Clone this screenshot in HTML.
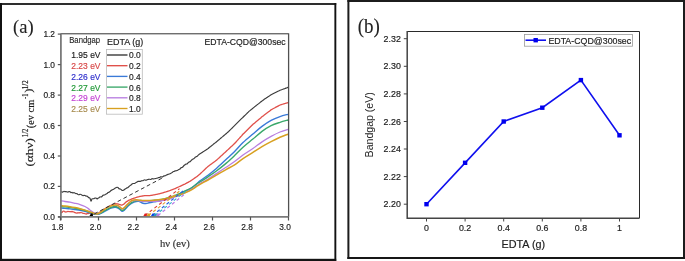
<!DOCTYPE html>
<html><head><meta charset="utf-8"><style>
html,body{margin:0;padding:0;background:#fff;overflow:hidden;}
svg{display:block;will-change:transform;}
</style></head><body>
<svg width="685" height="261" viewBox="0 0 685 261">
<rect x="0" y="0" width="685" height="261" fill="#fff"/>
<rect x="0" y="3" width="336.2" height="2" fill="#2e2e2e"/>
<rect x="0" y="3" width="2" height="258" fill="#111"/>
<rect x="334.4" y="3" width="1.9" height="258" fill="#111"/>
<rect x="0" y="258.8" width="336.2" height="2.2" fill="#141414"/>
<rect x="347.4" y="0" width="337.6" height="2" fill="#1c1c1c"/>
<rect x="347.4" y="0" width="2" height="259" fill="#1c1c1c"/>
<rect x="683" y="0" width="2" height="259" fill="#1c1c1c"/>
<rect x="347.4" y="257" width="337.6" height="2" fill="#161616"/>
<text x="13" y="32.6" font-family="Liberation Serif" font-size="19.5" fill="#222" stroke="#222" stroke-width="0.1" textLength="20.6" lengthAdjust="spacingAndGlyphs">(a)</text>
<g fill="none" stroke-linejoin="round" stroke-linecap="round">
<path d="M61.00,191.57 C61.17,191.66 61.67,192.03 62.00,192.08 C62.33,192.13 62.67,192.00 63.00,191.87 C63.33,191.74 63.67,191.33 64.00,191.28 C64.33,191.23 64.67,191.52 65.00,191.57 C65.33,191.63 65.67,191.56 66.00,191.60 C66.33,191.65 66.67,191.79 67.00,191.86 C67.33,191.94 67.67,192.10 68.00,192.06 C68.33,192.02 68.67,191.67 69.00,191.61 C69.33,191.55 69.67,191.56 70.00,191.73 C70.33,191.90 70.67,192.51 71.00,192.63 C71.33,192.75 71.67,192.38 72.00,192.44 C72.33,192.50 72.67,192.97 73.00,192.99 C73.33,193.00 73.67,192.52 74.00,192.55 C74.33,192.59 74.67,193.01 75.00,193.20 C75.33,193.39 75.67,193.64 76.00,193.70 C76.33,193.76 76.67,193.42 77.00,193.56 C77.33,193.69 77.67,194.30 78.00,194.50 C78.33,194.70 78.67,194.80 79.00,194.76 C79.33,194.72 79.67,194.33 80.00,194.28 C80.33,194.23 80.67,194.33 81.00,194.47 C81.33,194.62 81.67,194.93 82.00,195.14 C82.33,195.34 82.67,195.65 83.00,195.70 C83.33,195.74 83.67,195.41 84.00,195.39 C84.33,195.37 84.67,195.46 85.00,195.58 C85.33,195.70 85.67,196.01 86.00,196.10 C86.33,196.18 86.67,195.93 87.00,196.08 C87.33,196.22 87.67,196.65 88.00,196.95 C88.33,197.24 88.67,197.64 89.00,197.84 C89.33,198.05 89.67,197.64 90.00,198.20 C90.33,198.75 90.67,201.03 91.00,201.16 C91.33,201.29 91.67,199.36 92.00,198.96 C92.33,198.56 92.67,198.80 93.00,198.75 C93.33,198.69 93.67,198.72 94.00,198.61 C94.33,198.51 94.67,198.21 95.00,198.11 C95.33,198.01 95.67,197.89 96.00,198.02 C96.33,198.15 96.67,198.88 97.00,198.90 C97.33,198.93 97.67,198.35 98.00,198.15 C98.33,197.95 98.67,197.95 99.00,197.73 C99.33,197.51 99.67,196.93 100.00,196.82 C100.33,196.70 100.67,197.10 101.00,197.04 C101.33,196.98 101.67,196.74 102.00,196.46 C102.33,196.17 102.67,195.56 103.00,195.33 C103.33,195.09 103.67,195.15 104.00,195.05 C104.33,194.95 104.67,194.90 105.00,194.73 C105.33,194.57 105.67,194.25 106.00,194.06 C106.33,193.87 106.67,193.85 107.00,193.59 C107.33,193.34 107.67,192.75 108.00,192.53 C108.33,192.31 108.67,192.46 109.00,192.30 C109.33,192.13 109.67,191.85 110.00,191.55 C110.33,191.25 110.67,190.75 111.00,190.49 C111.33,190.23 111.67,190.17 112.00,190.01 C112.33,189.85 112.67,189.72 113.00,189.54 C113.33,189.37 113.67,189.21 114.00,188.98 C114.33,188.74 114.67,188.35 115.00,188.14 C115.33,187.92 115.67,187.82 116.00,187.68 C116.33,187.54 116.67,187.30 117.00,187.28 C117.33,187.26 117.67,187.34 118.00,187.57 C118.33,187.80 118.67,188.44 119.00,188.67 C119.33,188.89 119.67,188.81 120.00,188.92 C120.33,189.04 120.67,189.11 121.00,189.35 C121.33,189.58 121.67,190.13 122.00,190.32 C122.33,190.52 122.67,190.57 123.00,190.50 C123.33,190.43 123.67,190.15 124.00,189.92 C124.33,189.68 124.67,189.33 125.00,189.09 C125.33,188.85 125.67,188.68 126.00,188.48 C126.33,188.28 126.67,188.05 127.00,187.87 C127.33,187.70 127.67,187.68 128.00,187.45 C128.33,187.22 128.67,186.79 129.00,186.49 C129.33,186.18 129.67,185.89 130.00,185.64 C130.33,185.39 130.67,185.26 131.00,184.99 C131.33,184.72 131.67,184.28 132.00,184.03 C132.33,183.78 132.67,183.57 133.00,183.49 C133.33,183.41 133.67,183.58 134.00,183.53 C134.33,183.49 134.67,183.40 135.00,183.23 C135.33,183.07 135.67,182.73 136.00,182.52 C136.33,182.32 136.67,182.17 137.00,181.98 C137.33,181.80 137.67,181.53 138.00,181.42 C138.33,181.32 138.67,181.36 139.00,181.36 C139.33,181.36 139.67,181.49 140.00,181.43 C140.33,181.38 140.67,181.18 141.00,181.04 C141.33,180.91 141.67,180.69 142.00,180.64 C142.33,180.58 142.67,180.84 143.00,180.72 C143.33,180.61 143.67,180.08 144.00,179.96 C144.33,179.84 144.67,179.96 145.00,180.01 C145.33,180.06 145.67,180.30 146.00,180.27 C146.33,180.23 146.67,179.91 147.00,179.79 C147.33,179.67 147.67,179.64 148.00,179.54 C148.33,179.45 148.67,179.27 149.00,179.23 C149.33,179.20 149.67,179.30 150.00,179.34 C150.33,179.39 150.67,179.66 151.00,179.51 C151.33,179.36 151.67,178.55 152.00,178.46 C152.33,178.36 152.67,178.90 153.00,178.96 C153.33,179.01 153.67,178.84 154.00,178.79 C154.33,178.74 154.67,178.72 155.00,178.65 C155.33,178.57 155.67,178.41 156.00,178.34 C156.33,178.26 156.67,178.31 157.00,178.22 C157.33,178.12 157.67,177.87 158.00,177.78 C158.33,177.68 158.67,177.71 159.00,177.64 C159.33,177.56 159.67,177.49 160.00,177.33 C160.33,177.17 160.67,176.72 161.00,176.68 C161.33,176.64 161.67,177.12 162.00,177.09 C162.33,177.06 162.67,176.71 163.00,176.50 C163.33,176.30 163.67,175.97 164.00,175.85 C164.33,175.73 164.67,175.89 165.00,175.80 C165.33,175.72 165.67,175.52 166.00,175.35 C166.33,175.18 166.67,174.96 167.00,174.79 C167.33,174.62 167.67,174.46 168.00,174.34 C168.33,174.22 168.67,174.18 169.00,174.07 C169.33,173.97 169.67,173.85 170.00,173.71 C170.33,173.57 170.67,173.41 171.00,173.22 C171.33,173.04 171.67,172.85 172.00,172.60 C172.33,172.35 172.67,171.93 173.00,171.74 C173.33,171.54 173.67,171.57 174.00,171.44 C174.33,171.30 174.67,171.02 175.00,170.91 C175.33,170.80 175.67,170.84 176.00,170.78 C176.33,170.71 176.67,170.66 177.00,170.52 C177.33,170.39 177.67,170.14 178.00,169.97 C178.33,169.79 178.67,169.63 179.00,169.47 C179.33,169.30 179.67,169.27 180.00,168.98 C180.33,168.70 180.67,168.01 181.00,167.78 C181.33,167.55 181.67,167.78 182.00,167.61 C182.33,167.44 182.67,167.10 183.00,166.76 C183.33,166.41 183.67,165.86 184.00,165.52 C184.33,165.19 184.67,165.01 185.00,164.77 C185.33,164.52 185.67,164.17 186.00,164.04 C186.33,163.91 186.67,164.19 187.00,163.99 C187.33,163.79 187.67,163.15 188.00,162.81 C188.33,162.48 188.67,162.15 189.00,161.97 C189.33,161.78 189.67,161.92 190.00,161.71 C190.33,161.50 190.67,161.04 191.00,160.70 C191.33,160.36 191.67,159.97 192.00,159.69 C192.33,159.41 192.67,159.20 193.00,159.01 C193.33,158.83 193.67,158.84 194.00,158.58 C194.33,158.33 194.67,157.80 195.00,157.50 C195.33,157.20 195.67,156.98 196.00,156.80 C196.33,156.61 196.67,156.63 197.00,156.39 C197.33,156.15 197.67,155.68 198.00,155.36 C198.33,155.03 198.67,154.70 199.00,154.44 C199.33,154.18 199.67,154.01 200.00,153.80 C200.33,153.59 200.67,153.37 201.00,153.15 C201.33,152.93 201.67,152.72 202.00,152.50 C202.33,152.28 202.67,152.07 203.00,151.85 C203.33,151.63 203.67,151.42 204.00,151.20 C204.33,150.98 204.67,150.77 205.00,150.55 C205.33,150.33 205.67,150.12 206.00,149.90 C206.33,149.68 206.67,149.47 207.00,149.25 C207.33,149.03 207.67,148.84 208.00,148.60 C208.33,148.36 208.67,148.07 209.00,147.80 C209.33,147.54 209.67,147.27 210.00,147.00 C210.33,146.74 210.67,146.47 211.00,146.21 C211.33,145.94 211.67,145.68 212.00,145.41 C212.33,145.14 212.67,144.88 213.00,144.61 C213.33,144.35 213.67,144.08 214.00,143.81 C214.33,143.55 214.67,143.28 215.00,143.02 C215.33,142.75 215.67,142.49 216.00,142.22 C216.33,141.95 216.67,141.67 217.00,141.39 C217.33,141.11 217.67,140.83 218.00,140.55 C218.33,140.27 218.67,139.98 219.00,139.70 C219.33,139.42 219.67,139.14 220.00,138.86 C220.33,138.57 220.67,138.29 221.00,138.01 C221.33,137.73 221.67,137.45 222.00,137.17 C222.33,136.88 222.67,136.60 223.00,136.32 C223.33,136.04 223.67,135.76 224.00,135.47 C224.33,135.19 224.67,134.91 225.00,134.63 C225.33,134.35 225.67,134.07 226.00,133.78 C226.33,133.50 226.67,133.23 227.00,132.94 C227.33,132.64 227.67,132.33 228.00,132.02 C228.33,131.70 228.67,131.37 229.00,131.04 C229.33,130.72 229.67,130.40 230.00,130.07 C230.33,129.75 230.67,129.42 231.00,129.10 C231.33,128.78 231.67,128.45 232.00,128.13 C232.33,127.80 232.67,127.48 233.00,127.16 C233.33,126.83 233.67,126.51 234.00,126.18 C234.33,125.86 234.67,125.53 235.00,125.20 C235.33,124.87 235.67,124.53 236.00,124.20 C236.33,123.87 236.67,123.53 237.00,123.20 C237.33,122.87 237.67,122.53 238.00,122.20 C238.33,121.87 238.67,121.53 239.00,121.20 C239.33,120.87 239.67,120.53 240.00,120.20 C240.33,119.87 240.67,119.53 241.00,119.20 C241.33,118.87 241.67,118.53 242.00,118.20 C242.33,117.87 242.67,117.55 243.00,117.23 C243.33,116.91 243.67,116.58 244.00,116.26 C244.33,115.94 244.67,115.61 245.00,115.29 C245.33,114.96 245.67,114.64 246.00,114.32 C246.33,113.99 246.67,113.67 247.00,113.34 C247.33,113.02 247.67,112.70 248.00,112.37 C248.33,112.05 248.67,111.70 249.00,111.40 C249.33,111.10 249.67,110.86 250.00,110.59 C250.33,110.32 250.67,110.04 251.00,109.77 C251.33,109.50 251.67,109.23 252.00,108.96 C252.33,108.69 252.67,108.42 253.00,108.15 C253.33,107.88 253.67,107.60 254.00,107.33 C254.33,107.06 254.67,106.79 255.00,106.52 C255.33,106.25 255.67,105.97 256.00,105.71 C256.33,105.44 256.67,105.17 257.00,104.91 C257.33,104.65 257.67,104.40 258.00,104.14 C258.33,103.88 258.67,103.62 259.00,103.37 C259.33,103.11 259.67,102.85 260.00,102.59 C260.33,102.34 260.67,102.08 261.00,101.82 C261.33,101.56 261.67,101.30 262.00,101.05 C262.33,100.79 262.67,100.53 263.00,100.27 C263.33,100.02 263.67,99.74 264.00,99.50 C264.33,99.26 264.67,99.06 265.00,98.84 C265.33,98.62 265.67,98.40 266.00,98.18 C266.33,97.96 266.67,97.73 267.00,97.51 C267.33,97.29 267.67,97.07 268.00,96.85 C268.33,96.63 268.67,96.41 269.00,96.19 C269.33,95.97 269.67,95.75 270.00,95.53 C270.33,95.31 270.67,95.06 271.00,94.87 C271.33,94.67 271.67,94.52 272.00,94.34 C272.33,94.17 272.67,94.01 273.00,93.84 C273.33,93.67 273.67,93.50 274.00,93.33 C274.33,93.17 274.67,93.00 275.00,92.83 C275.33,92.66 275.67,92.49 276.00,92.32 C276.33,92.15 276.67,91.99 277.00,91.82 C277.33,91.65 277.67,91.48 278.00,91.31 C278.33,91.14 278.67,90.97 279.00,90.81 C279.33,90.64 279.67,90.44 280.00,90.30 C280.33,90.16 280.67,90.06 281.00,89.94 C281.33,89.82 281.67,89.70 282.00,89.58 C282.33,89.45 282.67,89.33 283.00,89.21 C283.33,89.09 283.67,88.97 284.00,88.85 C284.33,88.73 284.67,88.61 285.00,88.49 C285.33,88.37 285.67,88.25 286.00,88.12 C286.33,88.00 286.67,87.88 287.00,87.76 C287.33,87.64 287.83,87.46 288.00,87.40" stroke="#3c3c3c" stroke-width="1.15"/>
<path d="M61.00,212.50 C61.17,212.48 61.67,212.59 62.00,212.39 C62.33,212.19 62.67,211.50 63.00,211.31 C63.33,211.12 63.67,211.13 64.00,211.24 C64.33,211.35 64.67,211.87 65.00,211.97 C65.33,212.07 65.67,211.88 66.00,211.84 C66.33,211.80 66.67,211.83 67.00,211.75 C67.33,211.66 67.67,211.35 68.00,211.33 C68.33,211.31 68.67,211.59 69.00,211.64 C69.33,211.68 69.67,211.60 70.00,211.62 C70.33,211.64 70.67,211.78 71.00,211.75 C71.33,211.72 71.67,211.42 72.00,211.44 C72.33,211.47 72.67,211.81 73.00,211.90 C73.33,212.00 73.67,211.92 74.00,212.02 C74.33,212.13 74.67,212.39 75.00,212.55 C75.33,212.71 75.67,212.90 76.00,212.98 C76.33,213.07 76.67,213.11 77.00,213.07 C77.33,213.04 77.67,212.81 78.00,212.77 C78.33,212.72 78.67,212.80 79.00,212.80 C79.33,212.80 79.67,212.77 80.00,212.75 C80.33,212.72 80.67,212.63 81.00,212.63 C81.33,212.63 81.67,212.63 82.00,212.76 C82.33,212.89 82.67,213.28 83.00,213.38 C83.33,213.48 83.67,213.33 84.00,213.36 C84.33,213.39 84.67,213.44 85.00,213.57 C85.33,213.69 85.67,214.09 86.00,214.11 C86.33,214.13 86.67,213.76 87.00,213.69 C87.33,213.62 87.67,213.77 88.00,213.71 C88.33,213.65 88.67,213.43 89.00,213.33 C89.33,213.22 89.67,213.05 90.00,213.08 C90.33,213.10 90.67,213.44 91.00,213.48 C91.33,213.53 91.67,213.29 92.00,213.35 C92.33,213.41 92.67,213.65 93.00,213.84 C93.33,214.02 93.67,214.43 94.00,214.45 C94.33,214.46 94.67,214.13 95.00,213.93 C95.33,213.72 95.67,213.23 96.00,213.22 C96.33,213.20 96.67,213.83 97.00,213.83 C97.33,213.84 97.67,213.44 98.00,213.26 C98.33,213.08 98.67,212.93 99.00,212.72 C99.33,212.51 99.67,212.24 100.00,212.00 C100.33,211.76 100.67,211.53 101.00,211.30 C101.33,211.07 101.67,210.83 102.00,210.60 C102.33,210.37 102.67,210.12 103.00,209.90 C103.33,209.68 103.67,209.48 104.00,209.27 C104.33,209.06 104.67,208.84 105.00,208.63 C105.33,208.42 105.67,208.20 106.00,208.00 C106.33,207.80 106.67,207.62 107.00,207.43 C107.33,207.24 107.67,207.06 108.00,206.87 C108.33,206.68 108.67,206.48 109.00,206.30 C109.33,206.12 109.67,205.97 110.00,205.80 C110.33,205.63 110.67,205.47 111.00,205.30 C111.33,205.13 111.67,204.94 112.00,204.80 C112.33,204.66 112.67,204.57 113.00,204.46 C113.33,204.34 113.67,204.23 114.00,204.11 C114.33,204.00 114.67,203.84 115.00,203.77 C115.33,203.70 115.67,203.67 116.00,203.68 C116.33,203.69 116.67,203.79 117.00,203.84 C117.33,203.89 117.67,203.91 118.00,204.00 C118.33,204.09 118.67,204.23 119.00,204.35 C119.33,204.47 119.67,204.60 120.00,204.70 C120.33,204.80 120.67,204.87 121.00,204.95 C121.33,205.03 121.67,205.27 122.00,205.20 C122.33,205.13 122.67,204.77 123.00,204.55 C123.33,204.33 123.67,204.17 124.00,203.90 C124.33,203.63 124.67,203.27 125.00,202.95 C125.33,202.63 125.67,202.26 126.00,202.00 C126.33,201.74 126.67,201.60 127.00,201.40 C127.33,201.20 127.67,201.00 128.00,200.80 C128.33,200.60 128.67,200.37 129.00,200.20 C129.33,200.03 129.67,199.91 130.00,199.77 C130.33,199.62 130.67,199.48 131.00,199.33 C131.33,199.19 131.67,199.03 132.00,198.90 C132.33,198.77 132.67,198.67 133.00,198.55 C133.33,198.43 133.67,198.32 134.00,198.20 C134.33,198.08 134.67,197.97 135.00,197.85 C135.33,197.73 135.67,197.60 136.00,197.50 C136.33,197.40 136.67,197.32 137.00,197.22 C137.33,197.13 137.67,197.04 138.00,196.95 C138.33,196.86 138.67,196.77 139.00,196.68 C139.33,196.58 139.67,196.47 140.00,196.40 C140.33,196.33 140.67,196.29 141.00,196.24 C141.33,196.19 141.67,196.13 142.00,196.08 C142.33,196.03 142.67,195.97 143.00,195.92 C143.33,195.87 143.67,195.81 144.00,195.76 C144.33,195.71 144.67,195.63 145.00,195.60 C145.33,195.57 145.67,195.60 146.00,195.60 C146.33,195.60 146.67,195.60 147.00,195.60 C147.33,195.60 147.67,195.60 148.00,195.60 C148.33,195.60 148.67,195.60 149.00,195.60 C149.33,195.60 149.67,195.63 150.00,195.60 C150.33,195.57 150.67,195.48 151.00,195.42 C151.33,195.36 151.67,195.30 152.00,195.24 C152.33,195.18 152.67,195.12 153.00,195.06 C153.33,195.00 153.67,194.94 154.00,194.88 C154.33,194.82 154.67,194.77 155.00,194.70 C155.33,194.63 155.67,194.55 156.00,194.48 C156.33,194.41 156.67,194.33 157.00,194.26 C157.33,194.19 157.67,194.11 158.00,194.04 C158.33,193.97 158.67,193.89 159.00,193.82 C159.33,193.75 159.67,193.68 160.00,193.60 C160.33,193.52 160.67,193.41 161.00,193.32 C161.33,193.23 161.67,193.13 162.00,193.04 C162.33,192.95 162.67,192.85 163.00,192.76 C163.33,192.67 163.67,192.57 164.00,192.48 C164.33,192.39 164.67,192.30 165.00,192.20 C165.33,192.10 165.67,191.97 166.00,191.86 C166.33,191.75 166.67,191.63 167.00,191.52 C167.33,191.41 167.67,191.29 168.00,191.18 C168.33,191.07 168.67,190.95 169.00,190.84 C169.33,190.73 169.67,190.62 170.00,190.50 C170.33,190.38 170.67,190.25 171.00,190.12 C171.33,189.99 171.67,189.87 172.00,189.74 C172.33,189.61 172.67,189.49 173.00,189.36 C173.33,189.23 173.67,189.11 174.00,188.98 C174.33,188.85 174.67,188.74 175.00,188.60 C175.33,188.46 175.67,188.29 176.00,188.14 C176.33,187.99 176.67,187.83 177.00,187.68 C177.33,187.53 177.67,187.37 178.00,187.22 C178.33,187.07 178.67,186.91 179.00,186.76 C179.33,186.61 179.67,186.45 180.00,186.30 C180.33,186.15 180.67,185.99 181.00,185.84 C181.33,185.69 181.67,185.53 182.00,185.38 C182.33,185.23 182.67,185.07 183.00,184.92 C183.33,184.77 183.67,184.61 184.00,184.46 C184.33,184.31 184.67,184.17 185.00,184.00 C185.33,183.83 185.67,183.63 186.00,183.45 C186.33,183.26 186.67,183.08 187.00,182.89 C187.33,182.71 187.67,182.52 188.00,182.34 C188.33,182.15 188.67,181.97 189.00,181.78 C189.33,181.60 189.67,181.42 190.00,181.23 C190.33,181.05 190.67,180.88 191.00,180.68 C191.33,180.48 191.67,180.26 192.00,180.04 C192.33,179.81 192.67,179.55 193.00,179.31 C193.33,179.07 193.67,178.82 194.00,178.58 C194.33,178.34 194.67,178.10 195.00,177.85 C195.33,177.61 195.67,177.37 196.00,177.13 C196.33,176.88 196.67,176.65 197.00,176.40 C197.33,176.15 197.67,175.87 198.00,175.60 C198.33,175.33 198.67,175.07 199.00,174.80 C199.33,174.53 199.67,174.29 200.00,174.00 C200.33,173.71 200.67,173.37 201.00,173.05 C201.33,172.73 201.67,172.42 202.00,172.10 C202.33,171.78 202.67,171.47 203.00,171.15 C203.33,170.83 203.67,170.52 204.00,170.20 C204.33,169.88 204.67,169.57 205.00,169.25 C205.33,168.93 205.67,168.62 206.00,168.30 C206.33,167.98 206.67,167.67 207.00,167.35 C207.33,167.03 207.67,166.68 208.00,166.40 C208.33,166.12 208.67,165.92 209.00,165.67 C209.33,165.43 209.67,165.19 210.00,164.95 C210.33,164.71 210.67,164.46 211.00,164.22 C211.33,163.98 211.67,163.74 212.00,163.50 C212.33,163.25 212.67,163.01 213.00,162.77 C213.33,162.53 213.67,162.28 214.00,162.04 C214.33,161.80 214.67,161.56 215.00,161.32 C215.33,161.07 215.67,160.85 216.00,160.59 C216.33,160.33 216.67,160.04 217.00,159.75 C217.33,159.46 217.67,159.14 218.00,158.83 C218.33,158.53 218.67,158.22 219.00,157.92 C219.33,157.61 219.67,157.31 220.00,157.00 C220.33,156.69 220.67,156.39 221.00,156.08 C221.33,155.78 221.67,155.47 222.00,155.17 C222.33,154.86 222.67,154.56 223.00,154.25 C223.33,153.94 223.67,153.64 224.00,153.33 C224.33,153.03 224.67,152.72 225.00,152.42 C225.33,152.11 225.67,151.81 226.00,151.50 C226.33,151.19 226.67,150.88 227.00,150.57 C227.33,150.26 227.67,149.95 228.00,149.64 C228.33,149.33 228.67,149.02 229.00,148.71 C229.33,148.40 229.67,148.09 230.00,147.78 C230.33,147.47 230.67,147.16 231.00,146.85 C231.33,146.54 231.67,146.23 232.00,145.92 C232.33,145.61 232.67,145.30 233.00,144.99 C233.33,144.68 233.67,144.38 234.00,144.06 C234.33,143.74 234.67,143.41 235.00,143.06 C235.33,142.71 235.67,142.32 236.00,141.95 C236.33,141.58 236.67,141.21 237.00,140.84 C237.33,140.47 237.67,140.10 238.00,139.74 C238.33,139.37 238.67,139.00 239.00,138.63 C239.33,138.26 239.67,137.89 240.00,137.52 C240.33,137.15 240.67,136.78 241.00,136.41 C241.33,136.05 241.67,135.68 242.00,135.31 C242.33,134.94 242.67,134.55 243.00,134.20 C243.33,133.85 243.67,133.54 244.00,133.21 C244.33,132.88 244.67,132.55 245.00,132.22 C245.33,131.89 245.67,131.56 246.00,131.23 C246.33,130.90 246.67,130.57 247.00,130.24 C247.33,129.91 247.67,129.58 248.00,129.25 C248.33,128.92 248.67,128.59 249.00,128.26 C249.33,127.93 249.67,127.60 250.00,127.27 C250.33,126.94 250.67,126.61 251.00,126.28 C251.33,125.95 251.67,125.62 252.00,125.29 C252.33,124.96 252.67,124.62 253.00,124.32 C253.33,124.01 253.67,123.76 254.00,123.48 C254.33,123.20 254.67,122.92 255.00,122.65 C255.33,122.37 255.67,122.09 256.00,121.81 C256.33,121.53 256.67,121.25 257.00,120.98 C257.33,120.70 257.67,120.42 258.00,120.14 C258.33,119.86 258.67,119.58 259.00,119.31 C259.33,119.03 259.67,118.75 260.00,118.47 C260.33,118.19 260.67,117.91 261.00,117.64 C261.33,117.36 261.67,117.07 262.00,116.80 C262.33,116.53 262.67,116.29 263.00,116.03 C263.33,115.77 263.67,115.52 264.00,115.26 C264.33,115.01 264.67,114.75 265.00,114.49 C265.33,114.24 265.67,113.98 266.00,113.72 C266.33,113.47 266.67,113.21 267.00,112.95 C267.33,112.70 267.67,112.44 268.00,112.18 C268.33,111.93 268.67,111.67 269.00,111.42 C269.33,111.16 269.67,110.90 270.00,110.65 C270.33,110.39 270.67,110.10 271.00,109.88 C271.33,109.65 271.67,109.50 272.00,109.31 C272.33,109.13 272.67,108.96 273.00,108.78 C273.33,108.60 273.67,108.42 274.00,108.24 C274.33,108.06 274.67,107.88 275.00,107.70 C275.33,107.52 275.67,107.34 276.00,107.16 C276.33,106.98 276.67,106.80 277.00,106.62 C277.33,106.44 277.67,106.26 278.00,106.08 C278.33,105.90 278.67,105.72 279.00,105.54 C279.33,105.36 279.67,105.14 280.00,105.00 C280.33,104.86 280.67,104.80 281.00,104.70 C281.33,104.60 281.67,104.50 282.00,104.40 C282.33,104.30 282.67,104.20 283.00,104.10 C283.33,104.00 283.67,103.90 284.00,103.80 C284.33,103.70 284.67,103.60 285.00,103.50 C285.33,103.40 285.67,103.30 286.00,103.20 C286.33,103.10 286.67,103.00 287.00,102.90 C287.33,102.80 287.83,102.65 288.00,102.60" stroke="#e0504a" stroke-width="1.3"/>
<path d="M61.00,208.00 C61.67,208.07 63.50,208.25 65.00,208.40 C66.50,208.55 68.33,208.70 70.00,208.90 C71.67,209.10 73.33,209.37 75.00,209.60 C76.67,209.83 78.33,210.00 80.00,210.30 C81.67,210.60 83.33,210.98 85.00,211.40 C86.67,211.82 88.50,212.37 90.00,212.80 C91.50,213.23 92.83,213.75 94.00,214.00 C95.17,214.25 96.00,214.33 97.00,214.30 C98.00,214.27 99.00,214.14 100.00,213.80 C101.00,213.47 102.00,212.83 103.00,212.29 C104.00,211.76 105.00,211.15 106.00,210.60 C107.00,210.05 108.00,209.48 109.00,209.00 C110.00,208.52 110.92,207.98 112.00,207.70 C113.08,207.42 114.50,207.23 115.50,207.30 C116.50,207.37 117.25,207.73 118.00,208.10 C118.75,208.47 119.33,208.97 120.00,209.50 C120.67,210.03 121.33,211.13 122.00,211.30 C122.67,211.47 123.33,211.00 124.00,210.50 C124.67,210.00 125.17,209.17 126.00,208.30 C126.83,207.43 128.00,206.17 129.00,205.30 C130.00,204.43 130.83,203.73 132.00,203.10 C133.17,202.47 134.83,201.81 136.00,201.52 C137.17,201.23 138.17,201.20 139.00,201.36 C139.83,201.52 140.33,202.16 141.00,202.49 C141.67,202.81 142.17,203.14 143.00,203.31 C143.83,203.47 145.00,203.58 146.00,203.50 C147.00,203.42 148.00,203.02 149.00,202.80 C150.00,202.58 150.83,202.40 152.00,202.20 C153.17,202.00 154.67,201.83 156.00,201.60 C157.33,201.37 158.50,201.13 160.00,200.80 C161.50,200.47 163.33,200.07 165.00,199.60 C166.67,199.13 168.33,198.60 170.00,198.00 C171.67,197.40 173.33,196.63 175.00,196.00 C176.67,195.37 178.33,194.93 180.00,194.20 C181.67,193.47 183.08,192.62 185.00,191.60 C186.92,190.58 189.50,189.40 191.50,188.06 C193.50,186.72 195.58,184.76 197.00,183.55 C198.42,182.34 198.17,182.19 200.00,180.80 C201.83,179.41 205.27,177.25 208.00,175.20 C210.73,173.15 213.40,171.10 216.40,168.50 C219.40,165.90 222.97,162.43 226.00,159.60 C229.03,156.77 231.77,154.33 234.60,151.50 C237.43,148.67 239.95,145.52 243.00,142.60 C246.05,139.68 249.73,136.70 252.90,134.00 C256.07,131.30 258.97,128.67 262.00,126.40 C265.03,124.13 268.10,122.03 271.10,120.40 C274.10,118.77 277.18,117.62 280.00,116.60 C282.82,115.58 286.67,114.68 288.00,114.30" stroke="#3a7ad8" stroke-width="1.4"/>
<path d="M61.00,206.60 C61.67,206.65 63.50,206.75 65.00,206.90 C66.50,207.05 68.33,207.27 70.00,207.50 C71.67,207.73 73.33,208.02 75.00,208.30 C76.67,208.58 78.33,208.83 80.00,209.20 C81.67,209.57 83.33,210.00 85.00,210.50 C86.67,211.00 88.50,211.68 90.00,212.20 C91.50,212.72 92.83,213.30 94.00,213.60 C95.17,213.90 96.00,214.02 97.00,214.00 C98.00,213.98 99.00,213.85 100.00,213.47 C101.00,213.10 102.00,212.32 103.00,211.74 C104.00,211.16 105.00,210.57 106.00,210.00 C107.00,209.43 108.00,208.80 109.00,208.30 C110.00,207.80 110.92,207.30 112.00,207.00 C113.08,206.70 114.50,206.45 115.50,206.50 C116.50,206.55 117.25,206.93 118.00,207.30 C118.75,207.67 119.33,208.18 120.00,208.70 C120.67,209.22 121.33,210.25 122.00,210.40 C122.67,210.55 123.33,210.10 124.00,209.60 C124.67,209.10 125.17,208.25 126.00,207.40 C126.83,206.55 128.00,205.35 129.00,204.50 C130.00,203.65 130.83,202.91 132.00,202.30 C133.17,201.69 134.67,201.15 136.00,200.85 C137.33,200.54 138.50,200.50 140.00,200.47 C141.50,200.45 143.33,200.69 145.00,200.72 C146.67,200.74 148.33,200.69 150.00,200.60 C151.67,200.51 153.33,200.37 155.00,200.20 C156.67,200.03 158.33,199.87 160.00,199.60 C161.67,199.33 163.33,199.00 165.00,198.60 C166.67,198.20 168.33,197.73 170.00,197.20 C171.67,196.67 173.33,196.03 175.00,195.40 C176.67,194.77 178.33,194.13 180.00,193.40 C181.67,192.67 183.08,191.94 185.00,191.00 C186.92,190.06 189.50,188.97 191.50,187.76 C193.50,186.55 195.58,184.71 197.00,183.75 C198.42,182.79 198.17,183.16 200.00,182.00 C201.83,180.84 205.27,178.63 208.00,176.80 C210.73,174.97 213.40,173.23 216.40,171.00 C219.40,168.77 222.97,165.98 226.00,163.40 C229.03,160.82 231.77,158.20 234.60,155.50 C237.43,152.80 239.95,149.95 243.00,147.20 C246.05,144.45 249.73,141.63 252.90,139.00 C256.07,136.37 258.97,133.62 262.00,131.40 C265.03,129.18 268.10,127.22 271.10,125.70 C274.10,124.18 277.18,123.25 280.00,122.30 C282.82,121.35 286.67,120.38 288.00,120.00" stroke="#3aa86a" stroke-width="1.4"/>
<path d="M61.00,200.80 C61.67,200.92 63.50,201.27 65.00,201.50 C66.50,201.73 68.33,201.90 70.00,202.20 C71.67,202.50 73.33,202.90 75.00,203.30 C76.67,203.70 78.33,204.07 80.00,204.60 C81.67,205.13 83.67,205.87 85.00,206.50 C86.33,207.13 87.00,207.68 88.00,208.40 C89.00,209.12 90.00,210.05 91.00,210.80 C92.00,211.55 93.00,212.40 94.00,212.90 C95.00,213.40 96.00,213.84 97.00,213.80 C98.00,213.76 99.00,213.22 100.00,212.63 C101.00,212.05 102.00,211.02 103.00,210.30 C104.00,209.57 105.00,208.90 106.00,208.30 C107.00,207.70 108.00,207.17 109.00,206.70 C110.00,206.23 110.92,205.77 112.00,205.50 C113.08,205.23 114.50,205.03 115.50,205.10 C116.50,205.17 117.25,205.53 118.00,205.90 C118.75,206.27 119.33,206.80 120.00,207.30 C120.67,207.80 121.33,208.77 122.00,208.90 C122.67,209.03 123.33,208.58 124.00,208.10 C124.67,207.62 125.17,206.83 126.00,206.00 C126.83,205.17 128.00,203.93 129.00,203.10 C130.00,202.27 130.83,201.46 132.00,201.00 C133.17,200.54 134.67,200.33 136.00,200.35 C137.33,200.36 138.50,200.90 140.00,201.08 C141.50,201.26 143.33,201.38 145.00,201.43 C146.67,201.48 148.33,201.42 150.00,201.40 C151.67,201.38 153.33,201.37 155.00,201.30 C156.67,201.23 158.33,201.20 160.00,201.00 C161.67,200.80 163.33,200.47 165.00,200.10 C166.67,199.73 168.33,199.32 170.00,198.80 C171.67,198.28 173.33,197.65 175.00,197.00 C176.67,196.35 178.33,195.63 180.00,194.90 C181.67,194.17 183.08,193.53 185.00,192.60 C186.92,191.67 189.50,190.47 191.50,189.30 C193.50,188.13 195.58,186.56 197.00,185.59 C198.42,184.62 198.17,184.60 200.00,183.50 C201.83,182.40 205.27,180.65 208.00,179.00 C210.73,177.35 213.40,175.55 216.40,173.60 C219.40,171.65 222.97,169.32 226.00,167.30 C229.03,165.28 231.77,163.55 234.60,161.50 C237.43,159.45 239.95,157.17 243.00,155.00 C246.05,152.83 249.73,150.68 252.90,148.50 C256.07,146.32 258.97,143.92 262.00,141.90 C265.03,139.88 268.10,138.05 271.10,136.40 C274.10,134.75 277.18,133.18 280.00,132.00 C282.82,130.82 286.67,129.75 288.00,129.30" stroke="#b87ee0" stroke-width="1.3"/>
<path d="M61.00,205.60 C61.67,205.67 63.50,205.82 65.00,206.00 C66.50,206.18 68.33,206.43 70.00,206.70 C71.67,206.97 73.33,207.27 75.00,207.60 C76.67,207.93 78.33,208.28 80.00,208.70 C81.67,209.12 83.33,209.57 85.00,210.10 C86.67,210.63 88.50,211.35 90.00,211.90 C91.50,212.45 92.83,213.07 94.00,213.40 C95.17,213.73 96.00,214.03 97.00,213.90 C98.00,213.77 99.00,213.24 100.00,212.65 C101.00,212.05 102.00,211.05 103.00,210.33 C104.00,209.60 105.00,208.92 106.00,208.30 C107.00,207.68 108.00,207.08 109.00,206.60 C110.00,206.12 110.92,205.68 112.00,205.40 C113.08,205.12 114.50,204.85 115.50,204.90 C116.50,204.95 117.25,205.33 118.00,205.70 C118.75,206.07 119.33,206.60 120.00,207.10 C120.67,207.60 121.33,208.57 122.00,208.70 C122.67,208.83 123.33,208.38 124.00,207.90 C124.67,207.42 125.17,206.65 126.00,205.80 C126.83,204.95 128.00,203.68 129.00,202.80 C130.00,201.92 130.83,201.02 132.00,200.50 C133.17,199.98 134.67,199.69 136.00,199.66 C137.33,199.63 138.50,200.16 140.00,200.32 C141.50,200.48 143.33,200.58 145.00,200.61 C146.67,200.64 148.33,200.58 150.00,200.50 C151.67,200.42 153.33,200.25 155.00,200.10 C156.67,199.95 158.33,199.83 160.00,199.60 C161.67,199.37 163.33,199.02 165.00,198.70 C166.67,198.38 168.33,198.10 170.00,197.70 C171.67,197.30 173.33,196.80 175.00,196.30 C176.67,195.80 178.33,195.28 180.00,194.70 C181.67,194.12 183.08,193.61 185.00,192.80 C186.92,191.99 189.50,190.94 191.50,189.84 C193.50,188.73 195.58,187.10 197.00,186.18 C198.42,185.25 198.17,185.33 200.00,184.30 C201.83,183.27 205.27,181.52 208.00,180.00 C210.73,178.48 213.40,176.93 216.40,175.20 C219.40,173.47 222.97,171.33 226.00,169.60 C229.03,167.87 231.77,166.63 234.60,164.80 C237.43,162.97 239.95,160.67 243.00,158.60 C246.05,156.53 249.73,154.40 252.90,152.40 C256.07,150.40 258.97,148.40 262.00,146.60 C265.03,144.80 268.10,143.15 271.10,141.60 C274.10,140.05 277.18,138.53 280.00,137.30 C282.82,136.07 286.67,134.72 288.00,134.20" stroke="#d8a020" stroke-width="1.5"/>
</g>
<g fill="none" stroke-width="1.15" stroke-dasharray="3.2,2.8">
<path d="M88.5,217 L163,177.6" stroke="#333" stroke-width="1" stroke-dasharray="3.8,2.8"/>
<path d="M145,215.5 L179.5,188.6" stroke="#e03a30"/>
<path d="M148.5,215.5 L181.5,189.6" stroke="#e0a030"/>
<path d="M152.5,215.5 L183.5,190.6" stroke="#2a62e0"/>
<path d="M155,215.5 L185.5,191.4" stroke="#30b0c8"/>
<path d="M158,215.5 L186,193" stroke="#b878e8"/>
</g>
<path d="M89.2,216.6 L93.1,216.6 L92.7,213.6 L90.9,213.4 Z" fill="#000"/>
<path d="M143.1,216.6 L147.0,216.6 L146.6,213.6 L144.8,213.4 Z" fill="#e02020"/>
<path d="M146.29999999999998,216.6 L150.2,216.6 L149.79999999999998,213.6 L148.0,213.4 Z" fill="#d8a020"/>
<path d="M150.7,216.6 L154.6,216.6 L154.2,213.6 L152.4,213.4 Z" fill="#1040e0"/>
<path d="M153.0,216.6 L156.9,216.6 L156.5,213.6 L154.70000000000002,213.4 Z" fill="#20a0c0"/>
<path d="M155.5,216.6 L159.4,216.6 L159.0,213.6 L157.20000000000002,213.4 Z" fill="#b87ee0"/>
<path d="M60.7,33.8 L288.4,33.8" fill="none" stroke="#333" stroke-width="1"/>
<path d="M288.6,33.3 L288.6,216.9" fill="none" stroke="#505050" stroke-width="1.3"/>
<path d="M60.9,33.5 L60.9,220.3" fill="none" stroke="#7a7a7a" stroke-width="1.8"/>
<path d="M58,216.9 L288.4,216.9" fill="none" stroke="#7a7a7a" stroke-width="1.6"/>
<path d="M57.8,216.9 L60.7,216.9" stroke="#555" stroke-width="1.2"/>
<text x="55" y="219.9" font-family="Liberation Sans" font-size="8.7" fill="#222" stroke="#222" stroke-width="0.18" text-anchor="end" textLength="11.6" lengthAdjust="spacingAndGlyphs">0.0</text>
<path d="M57.8,186.4 L60.7,186.4" stroke="#555" stroke-width="1.2"/>
<text x="55" y="189.4" font-family="Liberation Sans" font-size="8.7" fill="#222" stroke="#222" stroke-width="0.18" text-anchor="end" textLength="11.6" lengthAdjust="spacingAndGlyphs">0.2</text>
<path d="M57.8,156.0 L60.7,156.0" stroke="#555" stroke-width="1.2"/>
<text x="55" y="159.0" font-family="Liberation Sans" font-size="8.7" fill="#222" stroke="#222" stroke-width="0.18" text-anchor="end" textLength="11.6" lengthAdjust="spacingAndGlyphs">0.4</text>
<path d="M57.8,125.5 L60.7,125.5" stroke="#555" stroke-width="1.2"/>
<text x="55" y="128.5" font-family="Liberation Sans" font-size="8.7" fill="#222" stroke="#222" stroke-width="0.18" text-anchor="end" textLength="11.6" lengthAdjust="spacingAndGlyphs">0.6</text>
<path d="M57.8,95.1 L60.7,95.1" stroke="#555" stroke-width="1.2"/>
<text x="55" y="98.1" font-family="Liberation Sans" font-size="8.7" fill="#222" stroke="#222" stroke-width="0.18" text-anchor="end" textLength="11.6" lengthAdjust="spacingAndGlyphs">0.8</text>
<path d="M57.8,64.6 L60.7,64.6" stroke="#555" stroke-width="1.2"/>
<text x="55" y="67.6" font-family="Liberation Sans" font-size="8.7" fill="#222" stroke="#222" stroke-width="0.18" text-anchor="end" textLength="11.6" lengthAdjust="spacingAndGlyphs">1.0</text>
<path d="M57.8,34.1 L60.7,34.1" stroke="#555" stroke-width="1.2"/>
<text x="55" y="37.1" font-family="Liberation Sans" font-size="8.7" fill="#222" stroke="#222" stroke-width="0.18" text-anchor="end" textLength="11.6" lengthAdjust="spacingAndGlyphs">1.2</text>
<path d="M60.5,216.9 L60.5,220.5" stroke="#555" stroke-width="1.2"/>
<text x="57.6" y="229.6" font-family="Liberation Sans" font-size="9.2" fill="#222" stroke="#222" stroke-width="0.18" text-anchor="middle" textLength="11.6" lengthAdjust="spacingAndGlyphs">1.8</text>
<path d="M98.5,216.9 L98.5,220.5" stroke="#555" stroke-width="1.2"/>
<text x="95.5" y="229.6" font-family="Liberation Sans" font-size="9.2" fill="#222" stroke="#222" stroke-width="0.18" text-anchor="middle" textLength="11.6" lengthAdjust="spacingAndGlyphs">2.0</text>
<path d="M136.5,216.9 L136.5,220.5" stroke="#555" stroke-width="1.2"/>
<text x="133.4" y="229.6" font-family="Liberation Sans" font-size="9.2" fill="#222" stroke="#222" stroke-width="0.18" text-anchor="middle" textLength="11.6" lengthAdjust="spacingAndGlyphs">2.2</text>
<path d="M174.5,216.9 L174.5,220.5" stroke="#555" stroke-width="1.2"/>
<text x="171.3" y="229.6" font-family="Liberation Sans" font-size="9.2" fill="#222" stroke="#222" stroke-width="0.18" text-anchor="middle" textLength="11.6" lengthAdjust="spacingAndGlyphs">2.4</text>
<path d="M212.5,216.9 L212.5,220.5" stroke="#555" stroke-width="1.2"/>
<text x="209.2" y="229.6" font-family="Liberation Sans" font-size="9.2" fill="#222" stroke="#222" stroke-width="0.18" text-anchor="middle" textLength="11.6" lengthAdjust="spacingAndGlyphs">2.6</text>
<path d="M250.5,216.9 L250.5,220.5" stroke="#555" stroke-width="1.2"/>
<text x="247.1" y="229.6" font-family="Liberation Sans" font-size="9.2" fill="#222" stroke="#222" stroke-width="0.18" text-anchor="middle" textLength="11.6" lengthAdjust="spacingAndGlyphs">2.8</text>
<path d="M288.5,216.9 L288.5,220.5" stroke="#555" stroke-width="1.2"/>
<text x="285.0" y="229.6" font-family="Liberation Sans" font-size="9.2" fill="#222" stroke="#222" stroke-width="0.18" text-anchor="middle" textLength="11.6" lengthAdjust="spacingAndGlyphs">3.0</text>
<text x="160" y="247" font-family="Liberation Serif" font-size="11" fill="#333" stroke="#333" stroke-width="0.18" textLength="29.8" lengthAdjust="spacingAndGlyphs">h&#957; (ev)</text>
<text transform="translate(32.8,166.6) rotate(-90)" font-family="Liberation Serif" font-size="11.4" fill="#1a1a1a" stroke="#1a1a1a" stroke-width="0.18" textLength="28.4" lengthAdjust="spacingAndGlyphs">(&#945;h&#957;)</text>
<text transform="translate(28.2,137.2) rotate(-90)" font-family="Liberation Serif" font-size="7.5" fill="#1a1a1a" stroke="#1a1a1a" stroke-width="0.18" textLength="8.6" lengthAdjust="spacingAndGlyphs">1/2</text>
<text transform="translate(33.6,128.2) rotate(-90)" font-family="Liberation Serif" font-size="11.4" fill="#1a1a1a" stroke="#1a1a1a" stroke-width="0.18" textLength="28.4" lengthAdjust="spacingAndGlyphs">(ev cm</text>
<text transform="translate(28.0,98.9) rotate(-90)" font-family="Liberation Serif" font-size="7.5" fill="#1a1a1a" stroke="#1a1a1a" stroke-width="0.18" textLength="5.3" lengthAdjust="spacingAndGlyphs">-1</text>
<text transform="translate(32.0,92.6) rotate(-90)" font-family="Liberation Serif" font-size="11.0" fill="#1a1a1a" stroke="#1a1a1a" stroke-width="0.18">)</text>
<text transform="translate(28.0,89.2) rotate(-90)" font-family="Liberation Serif" font-size="7.5" fill="#1a1a1a" stroke="#1a1a1a" stroke-width="0.18" textLength="8.9" lengthAdjust="spacingAndGlyphs">1/2</text>
<text x="204.5" y="45.2" font-family="Liberation Sans" font-size="9.4" fill="#222" stroke="#222" stroke-width="0.18" textLength="81.1" lengthAdjust="spacingAndGlyphs">EDTA-CQD@300sec</text>
<text x="69.2" y="43.4" font-family="Liberation Sans" font-size="8.3" fill="#222" stroke="#222" stroke-width="0.1" textLength="31" lengthAdjust="spacingAndGlyphs">Bandgap</text>
<text x="107" y="44.9" font-family="Liberation Sans" font-size="9.6" fill="#222" stroke="#222" stroke-width="0.18" textLength="36.3" lengthAdjust="spacingAndGlyphs">EDTA (g)</text>
<rect x="106.5" y="49.5" width="35.8" height="64.7" fill="#fff" stroke="#bbb" stroke-width="0.8"/>
<text x="71.3" y="58.4" font-family="Liberation Sans" font-size="9.3" fill="#222" stroke="#222" stroke-width="0.18" textLength="29.2" lengthAdjust="spacingAndGlyphs">1.95 eV</text>
<path d="M107,55.0 L127.5,55.0" stroke="#333" stroke-width="1.35"/>
<text x="129.1" y="58.4" font-family="Liberation Sans" font-size="9.3" fill="#222" stroke="#222" stroke-width="0.18" textLength="11.7" lengthAdjust="spacingAndGlyphs">0.0</text>
<text x="71.3" y="69.1" font-family="Liberation Sans" font-size="9.3" fill="#d84848" stroke="#d84848" stroke-width="0.18" textLength="29.2" lengthAdjust="spacingAndGlyphs">2.23 eV</text>
<path d="M107,65.7 L127.5,65.7" stroke="#e0504a" stroke-width="1.35"/>
<text x="129.1" y="69.1" font-family="Liberation Sans" font-size="9.3" fill="#222" stroke="#222" stroke-width="0.18" textLength="11.7" lengthAdjust="spacingAndGlyphs">0.2</text>
<text x="71.3" y="79.8" font-family="Liberation Sans" font-size="9.3" fill="#3030cc" stroke="#3030cc" stroke-width="0.18" textLength="29.2" lengthAdjust="spacingAndGlyphs">2.26 eV</text>
<path d="M107,76.4 L127.5,76.4" stroke="#3a7ad8" stroke-width="1.35"/>
<text x="129.1" y="79.8" font-family="Liberation Sans" font-size="9.3" fill="#222" stroke="#222" stroke-width="0.18" textLength="11.7" lengthAdjust="spacingAndGlyphs">0.4</text>
<text x="71.3" y="90.5" font-family="Liberation Sans" font-size="9.3" fill="#229a38" stroke="#229a38" stroke-width="0.18" textLength="29.2" lengthAdjust="spacingAndGlyphs">2.27 eV</text>
<path d="M107,87.1 L127.5,87.1" stroke="#3aa86a" stroke-width="1.35"/>
<text x="129.1" y="90.5" font-family="Liberation Sans" font-size="9.3" fill="#222" stroke="#222" stroke-width="0.18" textLength="11.7" lengthAdjust="spacingAndGlyphs">0.6</text>
<text x="71.3" y="101.2" font-family="Liberation Sans" font-size="9.3" fill="#c444d4" stroke="#c444d4" stroke-width="0.18" textLength="29.2" lengthAdjust="spacingAndGlyphs">2.29 eV</text>
<path d="M107,97.8 L127.5,97.8" stroke="#b87ee0" stroke-width="1.35"/>
<text x="129.1" y="101.2" font-family="Liberation Sans" font-size="9.3" fill="#222" stroke="#222" stroke-width="0.18" textLength="11.7" lengthAdjust="spacingAndGlyphs">0.8</text>
<text x="71.3" y="111.9" font-family="Liberation Sans" font-size="9.3" fill="#a88c50" stroke="#a88c50" stroke-width="0.18" textLength="29.2" lengthAdjust="spacingAndGlyphs">2.25 eV</text>
<path d="M107,108.5 L127.5,108.5" stroke="#d8a020" stroke-width="1.35"/>
<text x="129.1" y="111.9" font-family="Liberation Sans" font-size="9.3" fill="#222" stroke="#222" stroke-width="0.18" textLength="11.7" lengthAdjust="spacingAndGlyphs">1.0</text>
<text x="357.7" y="32.8" font-family="Liberation Serif" font-size="20" fill="#222" stroke="#222" stroke-width="0.1" textLength="22.2" lengthAdjust="spacingAndGlyphs">(b)</text>
<path d="M407.2,31.5 L639.5,31.5 L639.5,218.2" fill="none" stroke="#2a2a2a" stroke-width="1"/>
<path d="M407.2,31 L407.2,218.2 L639.5,218.2" fill="none" stroke="#444" stroke-width="1.5"/>
<path d="M403.8,204.2 L407.2,204.2" stroke="#444" stroke-width="1"/>
<text x="400.8" y="207.2" font-family="Liberation Sans" font-size="8.5" fill="#222" stroke="#222" stroke-width="0.18" text-anchor="end" textLength="17.2" lengthAdjust="spacingAndGlyphs">2.20</text>
<path d="M403.8,176.6 L407.2,176.6" stroke="#444" stroke-width="1"/>
<text x="400.8" y="179.6" font-family="Liberation Sans" font-size="8.5" fill="#222" stroke="#222" stroke-width="0.18" text-anchor="end" textLength="17.2" lengthAdjust="spacingAndGlyphs">2.22</text>
<path d="M403.8,149.0 L407.2,149.0" stroke="#444" stroke-width="1"/>
<text x="400.8" y="152.0" font-family="Liberation Sans" font-size="8.5" fill="#222" stroke="#222" stroke-width="0.18" text-anchor="end" textLength="17.2" lengthAdjust="spacingAndGlyphs">2.24</text>
<path d="M403.8,121.5 L407.2,121.5" stroke="#444" stroke-width="1"/>
<text x="400.8" y="124.5" font-family="Liberation Sans" font-size="8.5" fill="#222" stroke="#222" stroke-width="0.18" text-anchor="end" textLength="17.2" lengthAdjust="spacingAndGlyphs">2.26</text>
<path d="M403.8,93.9 L407.2,93.9" stroke="#444" stroke-width="1"/>
<text x="400.8" y="96.9" font-family="Liberation Sans" font-size="8.5" fill="#222" stroke="#222" stroke-width="0.18" text-anchor="end" textLength="17.2" lengthAdjust="spacingAndGlyphs">2.28</text>
<path d="M403.8,66.3 L407.2,66.3" stroke="#444" stroke-width="1"/>
<text x="400.8" y="69.3" font-family="Liberation Sans" font-size="8.5" fill="#222" stroke="#222" stroke-width="0.18" text-anchor="end" textLength="17.2" lengthAdjust="spacingAndGlyphs">2.30</text>
<path d="M403.8,38.7 L407.2,38.7" stroke="#444" stroke-width="1"/>
<text x="400.8" y="41.7" font-family="Liberation Sans" font-size="8.5" fill="#222" stroke="#222" stroke-width="0.18" text-anchor="end" textLength="17.2" lengthAdjust="spacingAndGlyphs">2.32</text>
<path d="M426.5,218.2 L426.5,221.5" stroke="#444" stroke-width="1"/>
<text x="426.5" y="231.2" font-family="Liberation Sans" font-size="8.8" fill="#222" stroke="#222" stroke-width="0.18" text-anchor="middle">0</text>
<path d="M465.1,218.2 L465.1,221.5" stroke="#444" stroke-width="1"/>
<text x="465.1" y="231.2" font-family="Liberation Sans" font-size="8.8" fill="#222" stroke="#222" stroke-width="0.18" text-anchor="middle" textLength="12.3" lengthAdjust="spacingAndGlyphs">0.2</text>
<path d="M503.7,218.2 L503.7,221.5" stroke="#444" stroke-width="1"/>
<text x="503.7" y="231.2" font-family="Liberation Sans" font-size="8.8" fill="#222" stroke="#222" stroke-width="0.18" text-anchor="middle" textLength="12.3" lengthAdjust="spacingAndGlyphs">0.4</text>
<path d="M542.3,218.2 L542.3,221.5" stroke="#444" stroke-width="1"/>
<text x="542.3" y="231.2" font-family="Liberation Sans" font-size="8.8" fill="#222" stroke="#222" stroke-width="0.18" text-anchor="middle" textLength="12.3" lengthAdjust="spacingAndGlyphs">0.6</text>
<path d="M580.9,218.2 L580.9,221.5" stroke="#444" stroke-width="1"/>
<text x="580.9" y="231.2" font-family="Liberation Sans" font-size="8.8" fill="#222" stroke="#222" stroke-width="0.18" text-anchor="middle" textLength="12.3" lengthAdjust="spacingAndGlyphs">0.8</text>
<path d="M619.5,218.2 L619.5,221.5" stroke="#444" stroke-width="1"/>
<text x="619.5" y="231.2" font-family="Liberation Sans" font-size="8.8" fill="#222" stroke="#222" stroke-width="0.18" text-anchor="middle">1</text>
<text x="501.5" y="247.7" font-family="Liberation Sans" font-size="10.4" fill="#222" stroke="#222" stroke-width="0.18" textLength="43.7" lengthAdjust="spacingAndGlyphs">EDTA (g)</text>
<text transform="translate(373.2,157.4) rotate(-90)" font-family="Liberation Sans" font-size="10" fill="#222" textLength="65.2" lengthAdjust="spacingAndGlyphs">Bandgap (eV)</text>
<path d="M426.50,204.20 L465.10,162.83 L503.70,121.46 L542.30,107.67 L580.90,80.09 L619.50,135.25" fill="none" stroke="#1010ee" stroke-width="1.6"/>
<rect x="424.3" y="202.0" width="4.4" height="4.4" fill="#0000ee"/>
<rect x="462.9" y="160.6" width="4.4" height="4.4" fill="#0000ee"/>
<rect x="501.5" y="119.3" width="4.4" height="4.4" fill="#0000ee"/>
<rect x="540.1" y="105.5" width="4.4" height="4.4" fill="#0000ee"/>
<rect x="578.7" y="77.9" width="4.4" height="4.4" fill="#0000ee"/>
<rect x="617.3" y="133.1" width="4.4" height="4.4" fill="#0000ee"/>
<rect x="524.5" y="34.5" width="108" height="11.7" fill="#fff" stroke="#999" stroke-width="0.8"/>
<path d="M525.5,40.2 L546,40.2" stroke="#1010ee" stroke-width="1.6"/>
<rect x="533.5" y="38" width="4.4" height="4.4" fill="#0000ee"/>
<text x="548.4" y="43.6" font-family="Liberation Sans" font-size="9.4" fill="#222" stroke="#222" stroke-width="0.18" textLength="82.8" lengthAdjust="spacingAndGlyphs">EDTA-CQD@300sec</text>
</svg>
</body></html>
